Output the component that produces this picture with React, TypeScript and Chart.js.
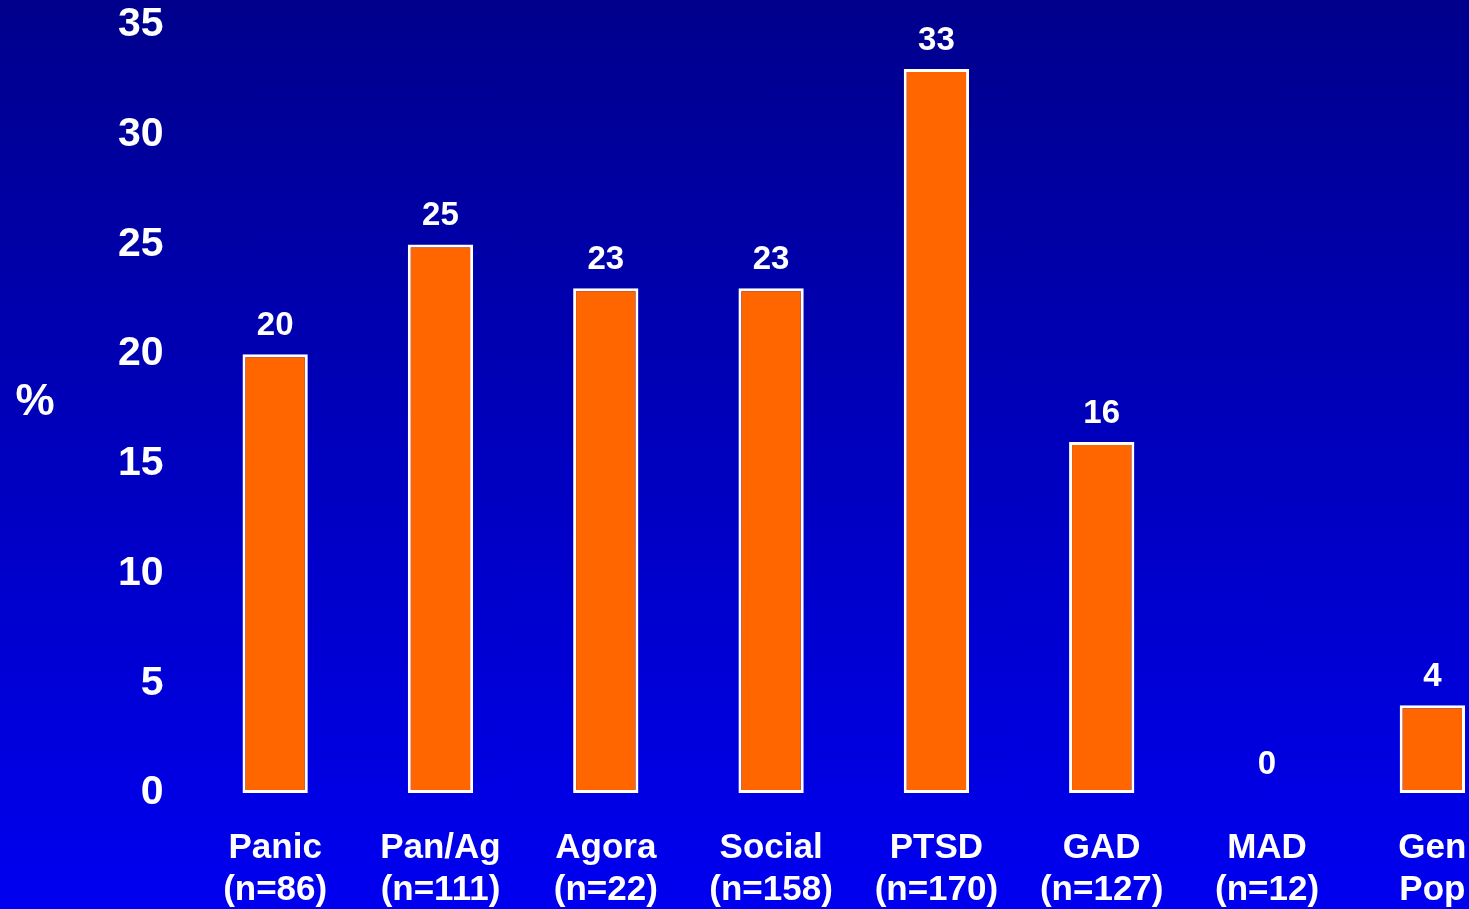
import React, { useEffect, useRef } from "react";
import { Chart, registerables } from "chart.js";

Chart.register(...registerables);

const categories: string[][] = [
  ["Panic", "(n=86)"],
  ["Pan/Ag", "(n=111)"],
  ["Agora", "(n=22)"],
  ["Social", "(n=158)"],
  ["PTSD", "(n=170)"],
  ["GAD", "(n=127)"],
  ["MAD", "(n=12)"],
  ["Gen", "Pop"],
];
const percentValues: number[] = [20, 25, 23, 23, 33, 16, 0, 4];
const yTicks = { min: 0, max: 35, step: 5 };
const yAxisLabel = "%";

const FONT = '"Liberation Sans", Arial, Helvetica, sans-serif';

const valueLabelPlugin = {
  id: "valueLabels",
  afterDatasetsDraw(chart: any) {
    const ctx = chart.ctx;
    const meta = chart.getDatasetMeta(0);
    ctx.save();
    ctx.fillStyle = "#ffffff";
    ctx.font = `bold 33px ${FONT}`;
    ctx.textAlign = "center";
    ctx.textBaseline = "alphabetic";
    meta.data.forEach((bar: any, i: number) => {
      ctx.fillText(String(percentValues[i]), bar.x, bar.y - 19);
    });
    // y-axis title
    const area = chart.chartArea;
    ctx.font = `bold 44px ${FONT}`;
    ctx.textBaseline = "middle";
    ctx.fillText(yAxisLabel, 35, (area.top + area.bottom) / 2 - 6);
    ctx.restore();
  },
};

export default function App() {
  const canvasRef = useRef<HTMLCanvasElement | null>(null);

  useEffect(() => {
    document.documentElement.style.overflow = "hidden";
    document.body.style.overflow = "hidden";
    document.body.style.margin = "0";
    const canvas = canvasRef.current;
    if (!canvas) return;
    const chart = new Chart(canvas, {
      type: "bar",
      data: {
        labels: categories,
        datasets: [
          {
            data: percentValues,
            backgroundColor: "#FF6600",
            borderColor: "#FFFFFF",
            borderWidth: (c: any) => (c.raw === 0 ? 0 : 3),
            borderSkipped: false,
            barPercentage: 0.395,
            categoryPercentage: 1,
          },
        ],
      },
      options: {
        responsive: false,
        animation: false,
        devicePixelRatio: 1,
        layout: { padding: { top: 25, right: 17, left: 0, bottom: 0 } },
        plugins: {
          legend: { display: false },
          tooltip: { enabled: false },
        },
        scales: {
          x: {
            grid: { display: false, drawTicks: false },
            border: { display: false },
            ticks: {
              color: "#ffffff",
              padding: 34,
              maxRotation: 0,
              autoSkip: false,
              font: { family: FONT, size: 35, weight: "bold", lineHeight: 1.2 },
            },
            afterFit: (s: any) => {
              s.height = 116;
              s.paddingLeft = 0;
              s.paddingRight = 0;
            },
          },
          y: {
            min: yTicks.min,
            max: yTicks.max,
            grid: { display: false, drawTicks: false },
            border: { display: false },
            ticks: {
              stepSize: yTicks.step,
              color: "#ffffff",
              padding: 29,
              font: { family: FONT, size: 41, weight: "bold" },
            },
            afterFit: (s: any) => {
              s.width = 192.5;
              s.paddingTop = 0;
              s.paddingBottom = 0;
            },
          },
        },
      },
      plugins: [valueLabelPlugin],
    } as any);
    return () => chart.destroy();
  }, []);

  return (
    <div
      style={{
        position: "absolute",
        left: 0,
        top: 0,
        width: 1469,
        height: 909,
        overflow: "hidden",
        background: "linear-gradient(to bottom, rgb(0,0,140) 0%, rgb(0,0,240) 100%)",
      }}
    >
      <canvas ref={canvasRef} width={1532} height={909} style={{ display: "block" }} />
    </div>
  );
}
